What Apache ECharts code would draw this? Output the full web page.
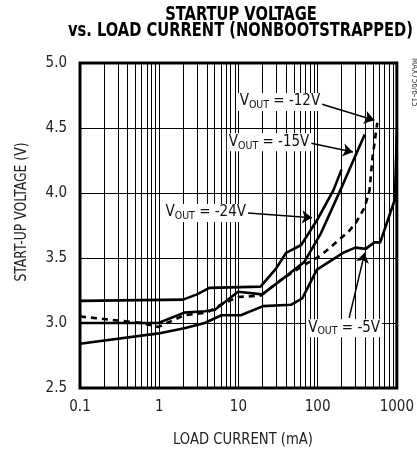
<!DOCTYPE html>
<html>
<head>
<meta charset="utf-8">
<script src="https://cdn.jsdelivr.net/npm/echarts@6/dist/echarts.min.js"></script>
<style>
html,body{margin:0;padding:0;background:#fff;}
#c{width:417px;height:449px;}
</style>
</head>
<body>
<div id="c"></div>
<script>
// Load current (mA), start-up voltage (V)
const v24 = [[0.1,3.17],[2.0,3.18],[3.0,3.22],[4.3,3.27],[19,3.28],[30,3.42],[40,3.54],[62,3.60],[98,3.79],[158,4.02],[200,4.18]];
const v15 = [[0.1,3.0],[0.98,3.0],[2.07,3.08],[3.76,3.09],[5,3.1],[9.9,3.24],[20,3.22],[38,3.35],[68,3.47],[110,3.69],[193,4.02],[393,4.45]];
const v12 = [[0.1,3.05],[0.6,3.0],[0.98,2.97],[2.07,3.06],[4,3.08],[6.4,3.15],[9.9,3.2],[19,3.21],[38,3.35],[74,3.46],[110,3.52],[243,3.70],[304,3.77],[393,3.89],[452,4.02],[492,4.27],[567,4.54]];
const v5 = [[0.1,2.84],[0.98,2.92],[2.07,2.96],[3.76,3.0],[6.1,3.06],[10.7,3.06],[20.5,3.13],[46,3.14],[64,3.19],[98,3.41],[210,3.54],[300,3.58],[404,3.57],[521,3.62],[617,3.62],[944,3.95],[1000,4.45]];
const xTicks = [0.1, 1, 10, 100, 1000];
const minorX = [0.2,0.3,0.4,0.5,0.6,0.7,0.8,0.9,2,3,4,5,6,7,8,9,20,30,40,50,60,70,80,90,200,300,400,500,600,700,800,900];
const yTicks = [2.5, 3.0, 3.5, 4.0, 4.5, 5.0];
// annotations: label text, label position, arrow start, arrow tip
const annLabels = ['-12V', '-15V', '-24V', '-5V'];
const annPos = [[33.4,4.70],[24.4,4.39],[3.87,3.846],[216,2.96]];
const annFrom = [[103.5,4.69],[80,4.385],[13.1,3.846],[250,3.04]];
const annTo = [[521,4.56],[279,4.315],[85,3.81],[393,3.54]];

const NARROW = '"DejaVu Sans Condensed","Liberation Sans Narrow",sans-serif';
const ctx = document.createElement('canvas').getContext('2d');
function fit(text, font, w) { ctx.font = font; return w / ctx.measureText(text).width; }

const T1 = 'STARTUP VOLTAGE', T2 = 'vs. LOAD CURRENT (NONBOOTSTRAPPED)';
const TF = 'bold 19px "DejaVu Sans Condensed",sans-serif';
const s2 = fit(T2, TF, 345);
const YN = 'START-UP VOLTAGE (V)', XN = 'LOAD CURRENT (mA)';
const NF = '15px ' + NARROW;

const chart = echarts.init(document.getElementById('c'), null, {renderer:'canvas'});
function ser(name, data, dashed) {
  return {name, type:'line', data, symbol:'none', smooth:false,
    lineStyle: dashed ? {color:'#000', width:2.6, type:[6,5]} : {color:'#000', width:2.6}, z:3};
}
chart.setOption({
  animation:false,
  backgroundColor:'#fff',
  grid:{left:80, right:12, top:63, bottom:61, show:true, borderColor:'#000', borderWidth:3, backgroundColor:'transparent', z:4},
  xAxis:{type:'log', logBase:10, min:0.1, max:1000,
    axisLine:{show:false}, axisTick:{show:false},
    splitLine:{show:true, lineStyle:{color:'#000', width:1}},
    axisLabel:{margin:12, fontFamily:NARROW, fontSize:15, color:'#222',
      formatter:v=>{const t=xTicks.find(k=>Math.abs(k-v)/k<1e-6);return t===undefined?'':String(t);}}},
  yAxis:{type:'value', min:2.5, max:5.0, interval:0.5,
    axisLine:{show:false}, axisTick:{show:false},
    splitLine:{show:true, lineStyle:{color:'#000', width:1}},
    axisLabel:{margin:13, fontFamily:NARROW, fontSize:15, color:'#222', formatter:v=>v.toFixed(1)}},
  graphic:[
    {type:'text', x:241, y:15, scaleX:s2, style:{text:T1, font:TF, fill:'#000', textAlign:'center', textVerticalAlign:'middle'}},
    {type:'text', x:240.5, y:31, scaleX:s2, style:{text:T2, font:TF, fill:'#000', textAlign:'center', textVerticalAlign:'middle'}},
    {type:'text', x:22, y:212, rotation:Math.PI/2, scaleX:fit(YN, NF, 139), style:{text:YN, font:NF, fill:'#222', textAlign:'center', textVerticalAlign:'middle'}},
    {type:'text', x:243, y:440, scaleX:fit(XN, NF, 140), style:{text:XN, font:NF, fill:'#222', textAlign:'center', textVerticalAlign:'middle'}},
    {type:'text', x:414, y:58, rotation:-Math.PI/2, style:{text:'MAX756/6-15', font:'8px '+NARROW, fill:'#444', textAlign:'left', textVerticalAlign:'middle'}}
  ],
  series:[
    {name:'minor', type:'line', data:[], symbol:'none', silent:true, z:1,
      markLine:{silent:true, symbol:['none','none'], label:{show:false},
        lineStyle:{color:'#000', width:1, type:'solid'},
        data: minorX.map(v=>({xAxis:v}))}},
    ser('VOUT = -24V', v24, false),
    ser('VOUT = -15V', v15, false),
    ser('VOUT = -12V', v12, true),
    ser('VOUT = -5V', v5, false),
    {name:'ann', type:'line', data:[], symbol:'none', z:5,
      markLine:{silent:true, symbol:['none','arrow'], symbolSize:10, label:{show:false},
        lineStyle:{color:'#000', width:1.5, type:'solid'},
        data: annFrom.map((f,i)=>[{coord:f},{coord:annTo[i]}])},
      markPoint:{silent:true, symbol:'rect', symbolSize:0,
        label:{show:true, position:'inside', backgroundColor:'#fff', padding:[1,2,0,2],
          fontFamily:NARROW, fontSize:15, color:'#111',
          rich:{m:{fontFamily:NARROW, fontSize:15, color:'#111', lineHeight:17, verticalAlign:'top'},
                s:{fontFamily:NARROW, fontSize:10.5, color:'#111', lineHeight:17, verticalAlign:'bottom'}}},
        data: annPos.map((p,i)=>({coord:p, value:0,
          label:{formatter:'{m|V}{s|OUT}{m| = '+annLabels[i]+'}'}}))}}
  ]
});
</script>
</body>
</html>
